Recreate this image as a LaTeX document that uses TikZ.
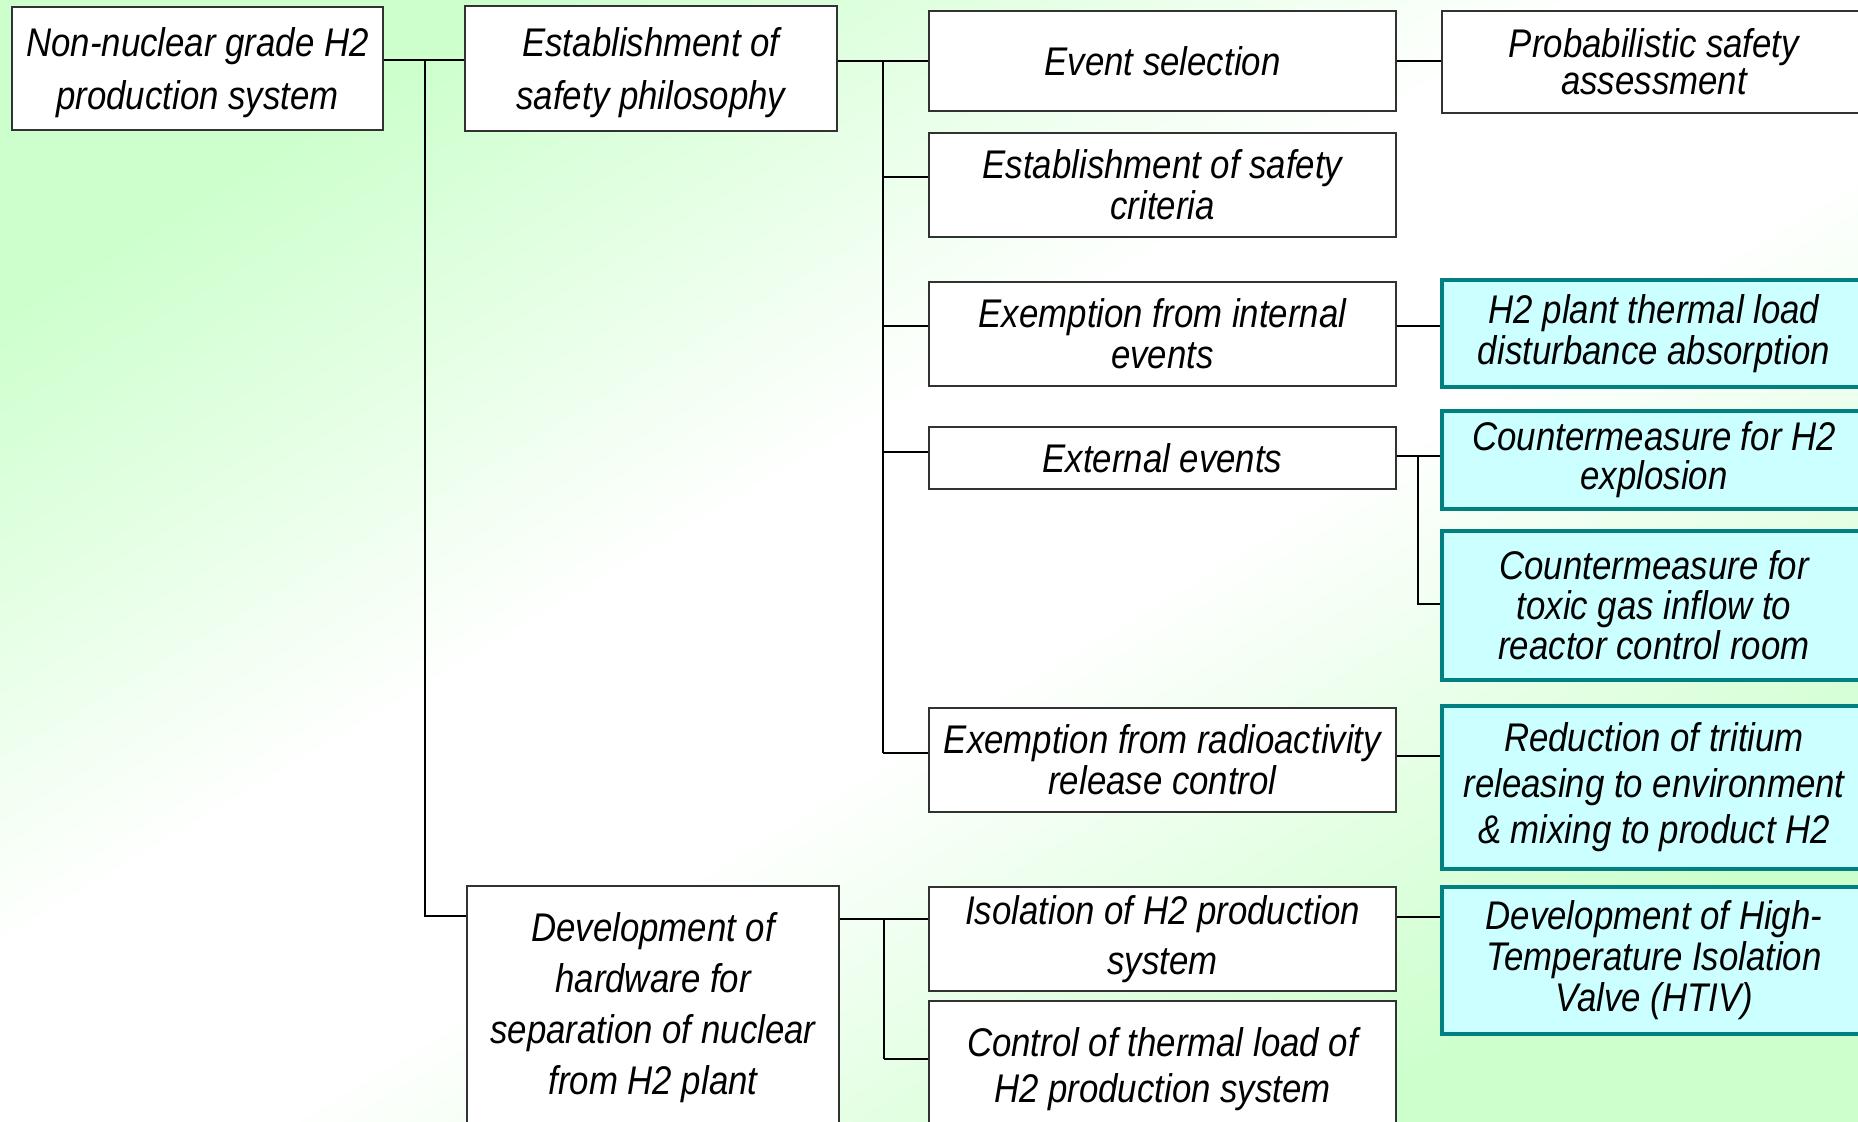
\documentclass[tikz,border=0pt]{standalone}
\usepackage{fontspec}
\setmainfont{Liberation Sans}[FakeStretch=0.87]
\definecolor{bggreen}{RGB}{204,255,204}
\definecolor{cyanfill}{RGB}{204,255,255}
\definecolor{tealline}{RGB}{0,128,128}
\definecolor{boxline}{RGB}{50,50,50}
\pgfdeclareverticalshading{bgshade}{100bp}{color(0bp)=(bggreen); color(25bp)=(bggreen); color(45bp)=(white); color(55bp)=(white); color(75bp)=(bggreen); color(100bp)=(bggreen)}
\tikzset{
  wbox/.style={draw=boxline, line width=1pt, fill=white, inner sep=0pt, align=center,
    font=\itshape\fontsize{20}{26.5}\selectfont},
  wboxc/.style={wbox, minimum width=233.5pt, font=\itshape\fontsize{20}{20.5}\selectfont},
  cbox/.style={draw=tealline, line width=2pt, fill=cyanfill, inner sep=0pt, align=center,
    minimum width=212pt},
  conn/.style={line width=0.7pt, black},
  thk/.style={line width=1.2pt, black}
}
\begin{document}
\begin{tikzpicture}[x=0.5pt,y=-0.5pt]
\useasboundingbox (0,0) rectangle (1858,1122);
\clip (0,0) rectangle (1858,1122);
\shade[shading=bgshade, shading angle=31] (0,0) rectangle (1858,1122);

% column 1 and 2
\node[wbox, minimum width=185.5pt, minimum height=61.5pt] (b1) at (197.5,68.5) {\strut Non-nuclear grade H2\\production system};
\node[wbox, minimum width=186pt, minimum height=62.5pt] (b2) at (651,68.5) {\strut Establishment of\\safety philosophy};
\node[wbox, minimum width=186pt, minimum height=122pt, font=\itshape\fontsize{20}{25.5}\selectfont] (b3) at (653,1008) {Development of\\hardware for\\separation of nuclear\\from H2 plant};

% column 3
\node[wboxc, minimum height=50pt] (c1) at (1162.5,61) {Event selection};
\node[wboxc, minimum height=52pt] (c2) at (1162.5,185) {Establishment of safety\\criteria};
\node[wboxc, minimum height=52pt] (c3) at (1162.5,334) {Exemption from internal\\events};
\node[wboxc, minimum height=31pt] (c4) at (1162.5,458) {External events};
\node[wboxc, minimum height=52pt] (c5) at (1162.5,760) {Exemption from radioactivity\\release control};
\node[wboxc, minimum height=52pt, font=\itshape\fontsize{20}{25}\selectfont] (c6) at (1162.5,939) {Isolation of H2 production\\system};
\node[wboxc, minimum height=68pt, font=\itshape\fontsize{20}{23}\selectfont] (c7) at (1162.5,1069) {Control of thermal load of\\H2 production system};

% column 4
\node[wbox, minimum width=212pt, minimum height=51pt, font=\itshape\fontsize{20}{18.5}\selectfont] (d1) at (1654,62) {Probabilistic safety\\assessment};
\node[cbox, minimum height=53.5pt, font=\itshape\fontsize{20}{20.5}\selectfont] (d2) at (1654,333.5) {H2 plant thermal load\\disturbance absorption};
\node[cbox, minimum height=49pt, font=\itshape\fontsize{20}{19.5}\selectfont] (d3) at (1654,460) {Countermeasure for H2\\explosion};
\node[cbox, minimum height=74.5pt, font=\itshape\fontsize{20}{20}\selectfont] (d4) at (1654,605.5) {Countermeasure for\\toxic gas inflow to\\reactor control room};
\node[cbox, minimum height=81.5pt, font=\itshape\fontsize{20}{23}\selectfont] (d5) at (1654,787.5) {Reduction of tritium\\releasing to environment\\\& mixing to product H2};
\node[cbox, minimum height=73.5pt, font=\itshape\fontsize{20}{20.5}\selectfont] (d6) at (1654,960.5) {Development of High-\\Temperature Isolation\\Valve (HTIV)};

% junction coordinates
\coordinate (t1) at (425,60);
\coordinate (t1b) at (425,916);
\coordinate (t2) at (883,61);
\coordinate (k2) at (883,177);
\coordinate (k3) at (883,326);
\coordinate (k4) at (883,452);
\coordinate (k5) at (883,753);
\coordinate (t3) at (884,919);
\coordinate (t3b) at (884,1059);
\coordinate (e1) at (1418,456);
\coordinate (e2) at (1418,604);
\coordinate (r1) at (1418,61);
\coordinate (r2) at (1418,326);
\coordinate (r5) at (1418,756);
\coordinate (r6) at (1418,917);

% connectors level 1
\draw[conn] (b1.east |- t1) -- (b2.west |- t1);
\draw[conn] (t1) -- (t1b) -- (b3.west |- t1b);

% connectors level 2
\draw[thk] (b2.east |- t2) -- (t2) -- (k5);
\draw[conn] (t2) -- (c1.west |- t2);
\draw[conn] (k2) -- (c2.west |- k2);
\draw[conn] (k3) -- (c3.west |- k3);
\draw[conn] (k4) -- (c4.west |- k4);
\draw[conn] (k5) -- (c5.west |- k5);
\draw[thk] (b3.east |- t3) -- (t3) -- (t3b);
\draw[conn] (t3) -- (c6.west |- t3);
\draw[conn] (t3b) -- (c7.west |- t3b);

% connectors level 3
\draw[conn] (c1.east |- r1) -- (d1.west |- r1);
\draw[conn] (c3.east |- r2) -- (d2.west |- r2);
\draw[conn] (c4.east |- e1) -- (d3.west |- e1);
\draw[conn] (e1) -- (e2) -- (d4.west |- e2);
\draw[conn] (c5.east |- r5) -- (d5.west |- r5);
\draw[conn] (c6.east |- r6) -- (d6.west |- r6);
\end{tikzpicture}
\end{document}
